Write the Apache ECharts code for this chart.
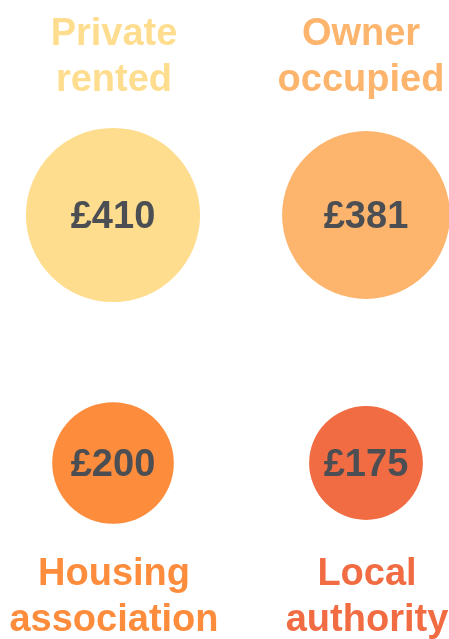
<!DOCTYPE html>
<html lang="en">
<head>
    <meta charset="UTF-8">
    <title>Average weekly rent by tenure</title>
    <script src="https://cdn.jsdelivr.net/npm/echarts@6/dist/echarts.min.js"></script>
    <style>
        html, body { margin: 0; padding: 0; background: #fff; }
        #chart { width: 449px; height: 639px; }
    </style>
</head>
<body>
    <div id="chart"></div>
    <script>
        // tenure data
        var tenures = ['Private\nrented', 'Owner\noccupied', 'Housing\nassociation', 'Local\nauthority'];
        var rents = [410, 381, 200, 175];
        var cols = [0, 1, 0, 1];   // grid column
        var rows = [1, 1, 0, 0];   // grid row (1 = top)
        var colors = ['#fedd8e', '#fdb46c', '#fd8c3c', '#f26c43'];

        var circleData = [];
        var nameData = [];
        for (var i = 0; i < rents.length; i++) {
            circleData.push({
                value: [cols[i], rows[i], rents[i]],
                itemStyle: { color: colors[i] }
            });
            nameData.push({
                value: [cols[i], rows[i]],
                name: tenures[i],
                label: {
                    color: colors[i],
                    offset: [cols[i] === 1 && rows[i] === 1 ? -5 : 1, rows[i] === 1 ? -157 : 135]
                }
            });
        }

        var myChart = echarts.init(document.getElementById('chart'));
        var option = {
            animation: false,
            grid: { left: 113, right: 83, top: 215, bottom: 176 },
            xAxis: { type: 'value', min: 0, max: 1, show: false },
            yAxis: { type: 'value', min: 0, max: 1, show: false },
            series: [
                {
                    name: 'rent',
                    type: 'scatter',
                    data: circleData,
                    itemStyle: { opacity: 1 },
                    // area proportional to the rent
                    symbolSize: function (v) { return 8.6 * Math.sqrt(v[2]); },
                    label: {
                        show: true,
                        position: 'inside',
                        offset: [0, 3],
                        formatter: function (p) { return '£' + p.value[2]; },
                        fontFamily: 'Liberation Sans',
                        fontWeight: 'bold',
                        fontSize: 38,
                        color: '#4b4e53'
                    }
                },
                {
                    name: 'tenure',
                    type: 'scatter',
                    data: nameData,
                    symbolSize: 0,
                    itemStyle: { opacity: 1 },
                    label: {
                        show: true,
                        position: 'inside',
                        formatter: '{b}',
                        fontFamily: 'Liberation Sans',
                        fontWeight: 'bold',
                        fontSize: 38,
                        lineHeight: 46,
                        align: 'center'
                    }
                }
            ]
        };
        myChart.setOption(option);
    </script>
</body>
</html>
